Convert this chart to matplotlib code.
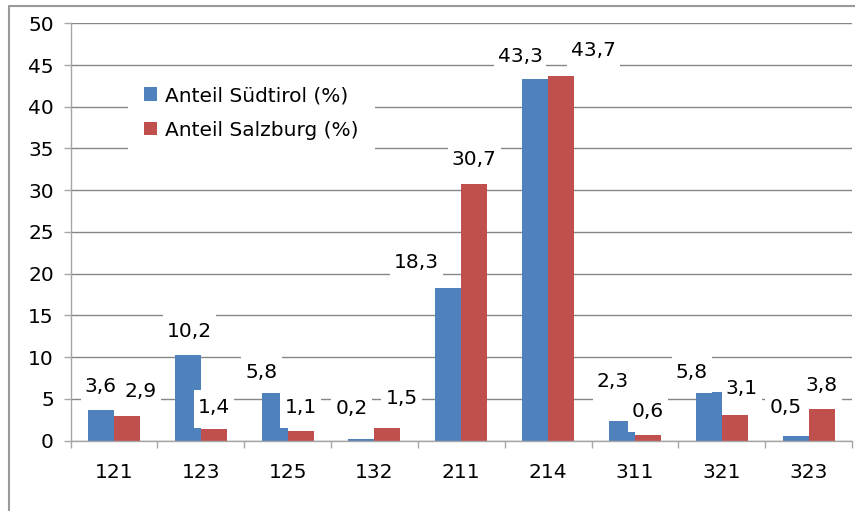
import matplotlib
matplotlib.use("Agg")
import matplotlib.pyplot as plt
import numpy as np
from matplotlib.lines import Line2D
from matplotlib.patches import Rectangle
from matplotlib.transforms import IdentityTransform

plt.rcParams['font.family'] = ['DejaVu Sans']

categories = ["121", "123", "125", "132", "211", "214", "311", "321", "323"]
suedtirol = [3.6, 10.2, 5.8, 0.2, 18.3, 43.3, 2.3, 5.8, 0.5]
salzburg = [2.9, 1.4, 1.1, 1.5, 30.7, 43.7, 0.6, 3.1, 3.8]
series_names = ["Anteil Südtirol (%)", "Anteil Salzburg (%)"]
colors = ["#4F81BD", "#C0504D"]
yticks = [0, 5, 10, 15, 20, 25, 30, 35, 40, 45, 50]

# manual label nudges (pixels) as in the reference layout
nudge_dx = [[0, 2, -13, -10, -32, -15, -9, -17, -10],
            [14, 0, 0, 14, 0, 32, 0, 7, 0]]
nudge_dy = [[0, 0, -4, 7, 2, -1, 16, -4, 5],
            [1, -2, 0, 6, 1, 2, 0, 3, 0]]

W, H = 855, 511
fig = plt.figure(figsize=(W / 100, H / 100), dpi=100)
ax = fig.add_axes([70.5 / W, 1 - 440.5 / H, (852 - 70.5) / W, (440.5 - 23.3) / H])

x = np.arange(len(categories))
bw = 0.30
grid_c = "#868686"
axis_c = "#a6a6a6"
fs = 14.5
px2pt = 72 / 100

ax.set_xlim(-0.5, len(categories) - 0.5)
ax.set_ylim(0, 50)
ax.set_yticks(yticks)
ax.set_yticklabels([str(t) for t in yticks], fontsize=fs)
ax.set_xticks(x)
ax.set_xticklabels(categories, fontsize=fs)
ax.set_xticks(np.arange(-0.5, len(categories)), minor=True)
ax.tick_params(axis='x', which='major', length=0, pad=16)
ax.tick_params(axis='x', which='minor', length=5, color=axis_c, width=1)
ax.tick_params(axis='y', which='major', length=5, color=axis_c, width=1, pad=7)
ax.yaxis.grid(True, color=grid_c, linewidth=1)
ax.set_axisbelow(True)
for s in ['top', 'right']:
    ax.spines[s].set_visible(False)
for s in ['left', 'bottom']:
    ax.spines[s].set_color(axis_c)
    ax.spines[s].set_linewidth(1)

labels = []
for k, (vals, name, c) in enumerate(zip([suedtirol, salzburg], series_names, colors)):
    pos = x + (k - 0.5) * bw
    ax.bar(pos, vals, width=bw, color=c, label=name, zorder=2)
    for i, (px, v) in enumerate(zip(pos, vals)):
        t = ax.annotate(f"{v:.1f}".replace(".", ","), (px, v),
                        xytext=(nudge_dx[k][i] * px2pt, (18 + nudge_dy[k][i]) * px2pt),
                        textcoords='offset points', ha='center', va='baseline',
                        fontsize=fs, zorder=6)
        labels.append(t)

leg = ax.legend(loc='upper left', bbox_to_anchor=(128 / W, 1 - 70 / H),
                bbox_transform=fig.transFigure, fontsize=fs, frameon=True,
                fancybox=False, edgecolor='none', facecolor='white', framealpha=1,
                borderpad=0.8, borderaxespad=0, handlelength=0.65, handleheight=0.65,
                handletextpad=0.4, labelspacing=0.78)
leg.set_zorder(4)

# white boxes behind the data labels (narrow sides, tall top/bottom like Excel)
fig.canvas.draw()
r = fig.canvas.get_renderer()
for t in labels:
    bb = t.get_window_extent(r)
    rect = Rectangle((bb.x0 - 4, bb.y0 - 11), bb.width + 8, bb.height + 19,
                     transform=IdentityTransform(), facecolor='white',
                     edgecolor='none', zorder=5, clip_on=False)
    ax.add_artist(rect)

# outer chart border
fig.add_artist(Line2D([8.5 / W, 8.5 / W, 1], [0, 1 - 6.5 / H, 1 - 6.5 / H],
                      transform=fig.transFigure, color="#9a9a9a", linewidth=1.5))

fig.savefig("out.png", dpi=100)
